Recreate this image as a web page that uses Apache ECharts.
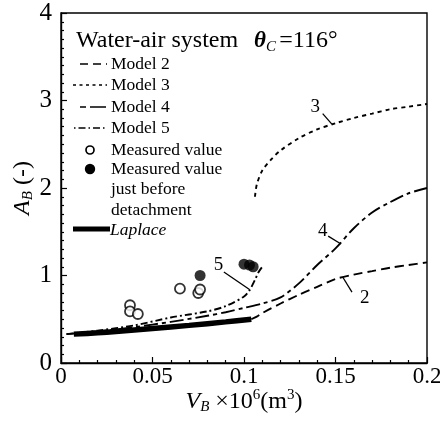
<!DOCTYPE html>
<html>
<head>
<meta charset="utf-8">
<script src="https://cdn.jsdelivr.net/npm/echarts@6/dist/echarts.min.js"></script>
<style>
html,body{margin:0;padding:0;background:#fff}
#chart{width:440px;height:423px}
</style>
</head>
<body>
<div id="chart"></div>
<script>
// values
const laplace = [[0.007,0.33],[0.02,0.345],[0.03,0.36],[0.05,0.395],[0.07,0.43],[0.09,0.47],[0.104,0.50]];
const model2 = [[0.104,0.50],[0.107,0.53],[0.11,0.57],[0.12,0.68],[0.13,0.78],[0.14,0.87],[0.15,0.96],[0.16,1.01],[0.17,1.05],[0.18,1.09],[0.19,1.12],[0.2,1.15]];
const model3 = [[0.106,1.9],[0.107,2.04],[0.11,2.2],[0.115,2.33],[0.12,2.43],[0.13,2.57],[0.14,2.67],[0.15,2.74],[0.16,2.8],[0.17,2.85],[0.18,2.9],[0.19,2.93],[0.2,2.96]];
const model4 = [[0.003,0.33],[0.02,0.36],[0.04,0.41],[0.06,0.47],[0.08,0.54],[0.09,0.58],[0.1,0.63],[0.11,0.68],[0.12,0.75],[0.13,0.91],[0.14,1.12],[0.15,1.31],[0.16,1.54],[0.17,1.72],[0.18,1.84],[0.19,1.94],[0.2,2.0]];
const model5 = [[0.003,0.33],[0.02,0.37],[0.04,0.43],[0.06,0.52],[0.08,0.59],[0.09,0.65],[0.1,0.76],[0.103,0.83],[0.106,0.95],[0.108,1.04],[0.11,1.1]];
const measured = [[0.0377,0.66],[0.0377,0.59],[0.042,0.56],[0.065,0.85],[0.075,0.80],[0.076,0.84]];
const measuredDetach = [[0.076,1.0],[0.1,1.13],[0.103,1.12],[0.105,1.1]];
// curve labels: [text, text pos, leader start, leader end]
const curveLabels = [
  ['3',[0.139,2.93],[0.143,2.85],[0.148,2.73]],
  ['4',[0.143,1.51],[0.146,1.45],[0.153,1.36]],
  ['2',[0.166,0.74],[0.159,0.81],[0.154,0.98]],
  ['5',[0.086,1.12],[0.089,1.04],[0.103,0.84]]
];

const serif = '"Liberation Serif", "DejaVu Serif", serif';
const chart = echarts.init(document.getElementById('chart'));

const lineSeries = (name, data, dash, width) => ({
  name, type: 'line', data, showSymbol: false, smooth: 0.3, silent: true,
  lineStyle: {color: '#000', width: width || 1.9, type: dash, cap: 'butt'},
  z: 3
});

chart.setOption({
  animation: false,
  grid: {left: 61, right: 13, top: 13, bottom: 60, show: true, borderColor: '#000', borderWidth: 1.4,
    containLabel: false, outerBoundsMode: 'none'},
  xAxis: {
    type: 'value', min: 0, max: 0.2, interval: 0.05,
    axisLine: {lineStyle: {color: '#000', width: 1.4}},
    axisTick: {inside: true, length: 6, lineStyle: {color: '#000', width: 1.2}},
    minorTick: {show: true, splitNumber: 5, length: 3, lineStyle: {color: '#000', width: 1.2}},
    splitLine: {show: false},
    axisLabel: {color: '#000', fontFamily: serif, fontSize: 23, margin: 2},
    name: '{i|V}{s|B} ×10{p|6}(m{p|3})', nameLocation: 'middle', nameGap: 25, nameMoveOverlap: false,
    nameTextStyle: {color: '#000', fontFamily: serif, fontSize: 24,
      rich: {
        i: {fontStyle: 'italic', fontFamily: serif, fontSize: 24},
        s: {fontStyle: 'italic', fontFamily: serif, fontSize: 15, verticalAlign: 'bottom', padding: [12,0,0,0]},
        p: {fontFamily: serif, fontSize: 15, verticalAlign: 'top', padding: [0,0,10,0]}
      }}
  },
  yAxis: {
    type: 'value', min: 0, max: 4, interval: 1,
    axisLine: {lineStyle: {color: '#000', width: 1.4}},
    axisTick: {inside: true, length: 6, lineStyle: {color: '#000', width: 1.2}},
    minorTick: {show: true, splitNumber: 10, length: 3, lineStyle: {color: '#000', width: 1.2}},
    splitLine: {show: false},
    axisLabel: {color: '#000', fontFamily: serif, fontSize: 25, margin: 9},
    name: '{i|A}{s|B} (-)', nameLocation: 'middle', nameGap: 25, nameRotate: 90, nameMoveOverlap: false,
    nameTextStyle: {color: '#000', fontFamily: serif, fontSize: 24,
      rich: {
        i: {fontStyle: 'italic', fontFamily: serif, fontSize: 24},
        s: {fontStyle: 'italic', fontFamily: serif, fontSize: 15, verticalAlign: 'bottom', padding: [12,0,0,0]}
      }}
  },
  series: [
    lineSeries('Laplace', laplace, 'solid', 5.5),
    lineSeries('Model 2', model2, [9,5]),
    lineSeries('Model 3', model3, [4,4]),
    lineSeries('Model 4', model4, [14,4,4,4]),
    lineSeries('Model 5', model5, [7,3,2,3]),
    {name: 'Measured value', type: 'scatter', data: measured, symbol: 'circle', symbolSize: 10, silent: true,
      itemStyle: {color: '#fff', borderColor: '#000', borderWidth: 1.8}, z: 4},
    {name: 'Measured value just before detachment', type: 'scatter', data: measuredDetach, symbol: 'circle', symbolSize: 11, silent: true,
      itemStyle: {color: '#000'}, z: 4}
  ]
});

// legend box and curve labels
const g = [];
const txt = (text, x, y, extra) => g.push({type: 'text', silent: true, style: Object.assign({
  text, x, y, fill: '#000', font: '17.5px ' + serif, verticalAlign: 'middle'}, extra || {})});
const seg = (x1, y1, x2, y2, w, dash) => g.push({type: 'line', silent: true,
  shape: {x1, y1, x2, y2}, style: {stroke: '#000', lineWidth: w, lineDash: dash || null}});

txt('Water-air system', 76, 41, {font: '24px ' + serif});
g.push({type: 'text', silent: true, style: {
  text: '{t|θ}{c|C} {e|=116°}', x: 254, y: 41, verticalAlign: 'middle', fill: '#000',
  rich: {
    t: {font: 'italic bold 23px ' + serif},
    c: {font: 'italic 15px ' + serif, verticalAlign: 'bottom', padding: [12,0,0,0]},
    e: {font: '24px ' + serif}
  }}});

const rows = [
  ['Model 2', 64, [8,5], 80],
  ['Model 3', 85, [3,3.5], 73],
  ['Model 4', 107, [6,4,16,4], 80],
  ['Model 5', 128, [1.5,3,7,3], 74]
];
rows.forEach(r => { seg(r[3], r[1], 107, r[1], 1.6, r[2]); txt(r[0], 111, r[1]); });
g.push({type: 'circle', silent: true, shape: {cx: 90, cy: 150, r: 4}, style: {fill: '#fff', stroke: '#000', lineWidth: 1.7}});
txt('Measured value', 111, 150);
g.push({type: 'circle', silent: true, shape: {cx: 90, cy: 169, r: 5.2}, style: {fill: '#000'}});
txt('Measured value', 111, 169);
txt('just before', 111, 189);
txt('detachment', 111, 210);
seg(73, 229, 110, 229, 5);
txt('Laplace', 110, 230, {font: 'italic 17.5px ' + serif});

curveLabels.forEach(c => {
  const p = chart.convertToPixel({gridIndex: 0}, c[1]);
  const a = chart.convertToPixel({gridIndex: 0}, c[2]);
  const b = chart.convertToPixel({gridIndex: 0}, c[3]);
  txt(c[0], p[0], p[1], {font: '19px ' + serif, align: 'center'});
  seg(a[0], a[1], b[0], b[1], 1.3);
});

chart.setOption({graphic: g});
</script>
</body>
</html>
